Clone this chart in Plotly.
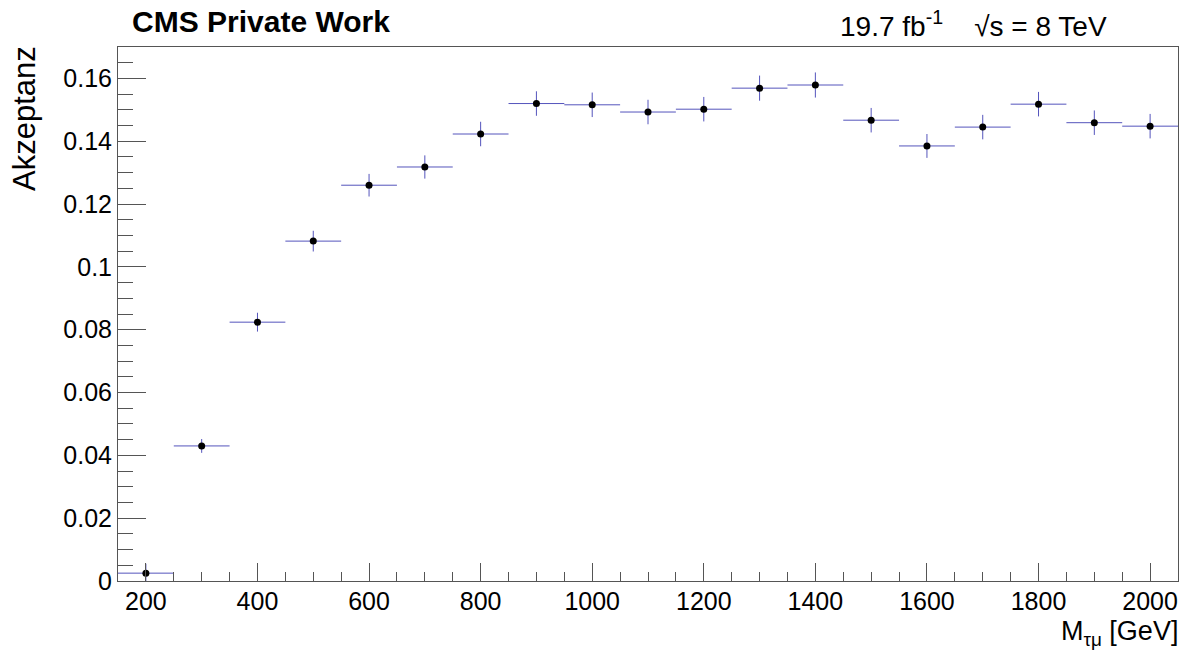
import plotly.graph_objects as go

mass = [200, 300, 400, 500, 600, 700, 800, 900, 1000, 1100, 1200, 1300, 1400, 1500, 1600, 1700, 1800, 1900, 2000]
acceptance = [0.0025, 0.0430, 0.0824, 0.1082, 0.1260, 0.1318, 0.1423, 0.1520, 0.1516, 0.1493, 0.1502,
              0.1569, 0.1579, 0.1467, 0.1385, 0.1445, 0.1518, 0.1459, 0.1448]
acc_err = [0.0030, 0.0022, 0.0030, 0.0033, 0.0036, 0.0037, 0.0039, 0.0039, 0.0039, 0.0039, 0.0039,
           0.0040, 0.0040, 0.0039, 0.0038, 0.0039, 0.0039, 0.0039, 0.0039]
bin_half_width = [50] * len(mass)

FONT = "Liberation Sans, Arial, Helvetica, sans-serif"
ERRC = "#5454bc"

fig = go.Figure()
fig.add_trace(go.Scatter(
    x=mass, y=acceptance, mode="markers",
    marker=dict(color="black", size=7),
    error_x=dict(type="data", array=bin_half_width, color=ERRC, thickness=1, width=0),
    error_y=dict(type="data", array=acc_err, color=ERRC, thickness=1, width=0),
    showlegend=False, cliponaxis=True,
))

fig.update_layout(
    width=1184, height=651,
    margin=dict(l=118, r=6, t=47, b=70),
    paper_bgcolor="white", plot_bgcolor="white",
    font=dict(family=FONT, color="black", size=25),
    xaxis=dict(
        range=[150, 2050], dtick=200, tick0=0,
        ticks="inside", ticklen=18, tickcolor="#555", tickwidth=1,
        minor=dict(dtick=50, ticks="inside", ticklen=9, tickcolor="#555"),
        showgrid=False, zeroline=False,
        showline=True, linecolor="#555", linewidth=1, mirror=True,
        tickfont=dict(size=25, family=FONT), ticklabelstandoff=-2,
    ),
    yaxis=dict(
        range=[0, 0.17], dtick=0.02, tick0=0,
        ticks="inside", ticklen=28, tickcolor="#555", tickwidth=1,
        minor=dict(dtick=0.005, ticks="inside", ticklen=15, tickcolor="#555"),
        showgrid=False, zeroline=False,
        showline=True, linecolor="#555", linewidth=1, mirror=True,
        tickfont=dict(size=25, family=FONT),
    ),
)

fig.add_annotation(text="<b>CMS Private Work</b>", xref="paper", yref="paper",
                   x=12/1060, y=1, xanchor="left", yanchor="bottom",
                   yshift=7, showarrow=False, font=dict(size=30, family=FONT))
fig.add_annotation(text="19.7 fb<sup>-1</sup>    √s = 8 TeV", xref="paper", yref="paper",
                   x=1, y=1, xanchor="right", yanchor="bottom", xshift=-69, yshift=3,
                   showarrow=False, font=dict(size=28, family=FONT))
fig.add_annotation(text="Akzeptanz", xref="paper", yref="paper",
                   x=0, y=1, xanchor="right", yanchor="top", textangle=-90,
                   xshift=-74, yshift=3, showarrow=False, font=dict(size=31, family=FONT))
fig.add_annotation(text="M<sub>τμ</sub> [GeV]", xref="paper", yref="paper",
                   x=1, y=0, xanchor="right", yanchor="top", yshift=-33, xshift=2,
                   showarrow=False, font=dict(size=27, family=FONT))

fig.write_html("out.html")
